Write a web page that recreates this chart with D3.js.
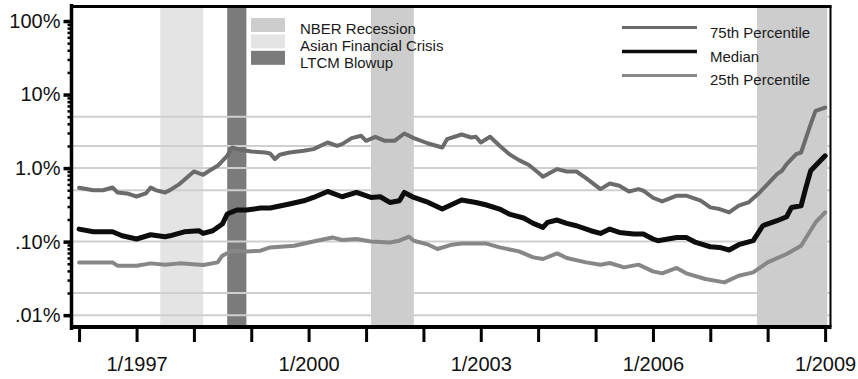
<!DOCTYPE html>
<html>
<head>
<meta charset="utf-8">
<script src="https://cdn.jsdelivr.net/npm/d3@7"></script>
<style>
  html, body { margin: 0; padding: 0; background: #fff; }
  svg { display: block; font-family: "Liberation Sans", Arial, Helvetica, sans-serif; }
</style>
</head>
<body>
<svg id="chart" width="858" height="379"></svg>
<script>
// Monthly percentile readings, in percent
const p75 = [
  ["1996-01",0.54],["1996-04",0.50],["1996-06",0.50],["1996-08",0.545],["1996-09",0.466],["1996-11",0.452],
  ["1997-01",0.411],["1997-03",0.452],["1997-04",0.545],["1997-05",0.502],["1997-07",0.466],["1997-08",0.502],
  ["1997-10",0.606],["1997-12",0.786],["1998-01",0.899],["1998-03",0.811],["1998-04",0.899],["1998-06",1.075],
  ["1998-08",1.469],["1998-09",1.905],["1998-11",1.757],["1999-01",1.681],["1999-04",1.629],["1999-05",1.579],
  ["1999-06",1.325],["1999-07",1.516],["1999-09",1.629],["1999-12",1.718],["2000-02",1.812],["2000-05",2.228],
  ["2000-07",2.009],["2000-08",2.118],["2000-10",2.557],["2000-12",2.748],["2001-01",2.35],["2001-03",2.663],
  ["2001-05",2.35],["2001-07",2.35],["2001-09",2.952],["2001-11",2.557],["2002-02",2.159],["2002-05",1.905],
  ["2002-06",2.478],["2002-09",2.86],["2002-11",2.605],["2002-12",2.663],["2003-01",2.228],["2003-03",2.663],
  ["2003-05",2.009],["2003-07",1.549],["2003-09",1.284],["2003-11",1.109],["2004-01",0.871],["2004-02",0.762],
  ["2004-05",0.969],["2004-07",0.899],["2004-09",0.899],["2004-11",0.731],["2005-02",0.518],["2005-04",0.618],
  ["2005-06",0.575],["2005-08",0.481],["2005-10",0.518],["2005-11",0.492],["2006-01",0.395],["2006-03",0.352],
  ["2006-06",0.421],["2006-08",0.421],["2006-11",0.36],["2007-01",0.292],["2007-03",0.277],["2007-05",0.249],
  ["2007-07",0.308],["2007-09",0.341],["2007-11",0.443],["2008-01",0.606],["2008-03",0.829],["2008-04",0.919],
  ["2008-05",1.133],["2008-07",1.549],["2008-08",1.629],["2008-10",3.963],["2008-11",6.004],["2009-01",6.653]
];
const median = [
  ["1996-01",0.148],["1996-04",0.136],["1996-08",0.136],["1996-10",0.120],["1997-01",0.1085],["1997-04",0.124],
  ["1997-07",0.1166],["1997-08",0.120],["1997-11",0.136],["1998-02",0.1406],["1998-03",0.1293],["1998-05",0.1406],
  ["1998-07",0.1734],["1998-08",0.2371],["1998-10",0.2688],["1998-12",0.2688],["1999-03",0.2861],["1999-05",0.2861],
  ["1999-09",0.3243],["1999-12",0.3594],["2000-02",0.3986],["2000-05",0.4809],["2000-08",0.4074],["2000-11",0.4662],
  ["2001-02",0.3986],["2001-04",0.4074],["2001-06",0.3409],["2001-08",0.3594],["2001-09",0.4662],["2001-11",0.3986],
  ["2002-02",0.3409],["2002-05",0.2773],["2002-07",0.3202],["2002-09",0.3674],["2002-12",0.3409],["2003-02",0.3172],
  ["2003-05",0.2773],["2003-07",0.2371],["2003-10",0.2093],["2003-12",0.1767],["2004-02",0.1559],["2004-03",0.1823],
  ["2004-05",0.1965],["2004-07",0.1767],["2004-09",0.1644],["2004-12",0.1406],["2005-02",0.1293],["2005-04",0.1483],
  ["2005-06",0.1334],["2005-09",0.1269],["2005-11",0.1269],["2006-01",0.1085],["2006-02",0.1029],["2006-06",0.114],
  ["2006-08",0.114],["2006-10",0.0975],["2007-01",0.0852],["2007-03",0.0834],["2007-05",0.0769],["2007-07",0.0908],
  ["2007-10",0.1029],["2007-12",0.1644],["2008-03",0.1923],["2008-05",0.218],["2008-06",0.2914],["2008-08",0.3075],
  ["2008-09",0.545],["2008-10",0.919],["2008-12",1.257],["2009-01",1.469]
];
const p25 = [
  ["1996-01",0.0522],["1996-08",0.0522],["1996-09",0.0471],["1997-01",0.0471],["1997-04",0.0506],["1997-07",0.0486],
  ["1997-10",0.0506],["1998-03",0.0481],["1998-06",0.0522],["1998-07",0.0643],["1998-09",0.0752],["1998-12",0.0736],
  ["1999-03",0.0752],["1999-05",0.0834],["1999-10",0.088],["2000-02",0.1006],["2000-06",0.114],["2000-08",0.1051],
  ["2000-11",0.1085],["2001-02",0.1006],["2001-06",0.0975],["2001-08",0.1029],["2001-10",0.1166],["2001-11",0.1029],
  ["2002-02",0.0908],["2002-04",0.0793],["2002-07",0.0908],["2002-09",0.0945],["2002-11",0.0945],["2003-02",0.0945],
  ["2003-05",0.0834],["2003-09",0.0736],["2003-12",0.061],["2004-02",0.058],["2004-05",0.0691],["2004-07",0.0599],
  ["2004-11",0.0522],["2005-02",0.0486],["2005-04",0.0512],["2005-07",0.0446],["2005-10",0.0486],["2006-01",0.0394],
  ["2006-03",0.037],["2006-06",0.0438],["2006-08",0.037],["2006-12",0.031],["2007-04",0.0279],["2007-07",0.0344],
  ["2007-10",0.0382],["2008-01",0.0522],["2008-05",0.0679],["2008-08",0.088],["2008-11",0.1823],["2009-01",0.2493]
];

const seriesNames  = ["75th Percentile", "Median", "25th Percentile"];
const seriesColors = ["#6b6b6b", "#0d0d0d", "#878787"];
const seriesWidths = [4, 5, 4];

// Shaded event periods
const bandNames  = ["NBER Recession", "Asian Financial Crisis", "LTCM Blowup"];
const bandColors = ["#cdcdcd", "#e4e4e4", "#7b7b7b"];
const nberPeriods  = [["2001-02-01", "2001-11-01"], ["2007-10-25", "2009-01-15"]];
const asianPeriods = [["1997-06-01", "1998-03-01"]];
const ltcmPeriods  = [["1998-08-01", "1998-12-01"]];

// Axes
const xDomain = ["1995-11-17", "2009-02-01"];
const yDomain = [0.0069, 160];
const yearTicks = d3.range(1996, 2010);
const labeledYears = [1997, 2000, 2003, 2006, 2009];
const yTickValues = [100, 10, 1, 0.1, 0.01];
const yTickLabels = ["100%", "10%", "1.0%", ".10%", ".01%"];
const gridValues = [5, 2, 1, 0.5, 0.1, 0.02, 0.01];

const parseMonth = d3.timeParse("%Y-%m");
const parseDay = d3.timeParse("%Y-%m-%d");

const svg = d3.select("#chart");
const pLeft = 72, pRight = 830, pTop = 6, pBottom = 327;

const x = d3.scaleTime().domain(xDomain.map(parseDay)).range([pLeft, pRight]);
const y = d3.scaleLog().domain(yDomain).range([pBottom, pTop]);

svg.append("defs").append("clipPath").attr("id", "plot")
  .append("rect").attr("x", pLeft).attr("y", pTop).attr("width", pRight - pLeft).attr("height", pBottom - pTop);

const plot = svg.append("g").attr("clip-path", "url(#plot)");

// Event bands
function drawBands(periods, color) {
  plot.append("g").selectAll("rect").data(periods).join("rect")
    .attr("x", d => x(parseDay(d[0])))
    .attr("width", d => x(parseDay(d[1])) - x(parseDay(d[0])))
    .attr("y", y(yDomain[1]))
    .attr("height", y(yDomain[0]) - y(yDomain[1]))
    .attr("fill", color);
}
drawBands(nberPeriods, bandColors[0]);
drawBands(asianPeriods, bandColors[1]);
drawBands(ltcmPeriods, bandColors[2]);

// Horizontal grid
plot.append("g").selectAll("line").data(gridValues).join("line")
  .attr("x1", pLeft).attr("x2", pRight)
  .attr("y1", d => y(d)).attr("y2", d => y(d))
  .attr("stroke", "#cfcfcf").attr("stroke-width", 2);

// Percentile lines
const line = d3.line()
  .x(d => x(parseMonth(d[0])))
  .y(d => y(d[1]))
  .curve(d3.curveLinear);

const series = [p75, median, p25];
[2, 0, 1].forEach(i => {
  plot.append("path")
    .datum(series[i])
    .attr("d", line)
    .attr("fill", "none")
    .attr("stroke", seriesColors[i])
    .attr("stroke-width", seriesWidths[i])
    .attr("stroke-linejoin", "round")
    .attr("stroke-linecap", "round");
});

// Frame: top and right edges
svg.append("line").attr("x1", pLeft - 2).attr("x2", pRight + 1.5)
  .attr("y1", pTop + 0.5).attr("y2", pTop + 0.5).attr("stroke", "#000").attr("stroke-width", 3);
svg.append("line").attr("x1", pRight + 0.5).attr("x2", pRight + 0.5)
  .attr("y1", pTop).attr("y2", pBottom).attr("stroke", "#000").attr("stroke-width", 2);

// Y axis: major ticks with labels
const yAxis = d3.axisLeft(y)
  .tickValues(yTickValues)
  .tickFormat((d, i) => yTickLabels[i])
  .tickSize(8).tickSizeOuter(0).tickPadding(3);
const gy = svg.append("g").attr("transform", `translate(${pLeft - 0.5},0)`).call(yAxis);
gy.select(".domain").attr("stroke-width", 3.5).attr("d", `M0,${pTop - 2}V${pBottom + 3}`);
gy.selectAll(".tick line").attr("stroke-width", 3.5);
gy.selectAll(".tick text").attr("font-size", 20).attr("fill", "#111")
  .attr("font-family", "'Liberation Sans', Arial, sans-serif");

// Y axis: minor ticks
const minorValues = [];
[0.01, 0.1, 1, 10].forEach(dec => d3.range(2, 10).forEach(k => minorValues.push(dec * k)));
const yMinor = d3.axisLeft(y).tickValues(minorValues).tickFormat("").tickSize(4).tickSizeOuter(0);
const gym = svg.append("g").attr("transform", `translate(${pLeft - 0.5},0)`).call(yMinor);
gym.select(".domain").remove();
gym.selectAll(".tick line").attr("stroke-width", 2.5);

// X axis
const xAxis = d3.axisBottom(x)
  .tickValues(yearTicks.map(yr => new Date(yr, 0, 1)))
  .tickFormat(d => labeledYears.includes(d.getFullYear()) ? "1/" + d.getFullYear() : "")
  .tickSize(15).tickSizeOuter(0).tickPadding(15);
const gx = svg.append("g").attr("transform", `translate(0,${pBottom})`).call(xAxis);
gx.select(".domain").attr("stroke-width", 4).attr("d", `M${pLeft - 2},0H${pRight + 1.5}`);
gx.selectAll(".tick line").attr("stroke-width", 3);
gx.selectAll(".tick text").attr("font-size", 20).attr("fill", "#111")
  .attr("font-family", "'Liberation Sans', Arial, sans-serif");

// Legend: shaded periods
const bandLegend = svg.append("g").attr("font-size", 15).attr("fill", "#1a1a1a");
bandNames.forEach((name, i) => {
  bandLegend.append("rect")
    .attr("x", 251).attr("y", 18 + i * 16.4).attr("width", 34).attr("height", 14)
    .attr("fill", bandColors[i]);
  bandLegend.append("text")
    .attr("x", 300).attr("y", 34 + i * 16.8).text(name);
});

// Legend: percentile lines
const lineLegend = svg.append("g").attr("font-size", 15).attr("fill", "#1a1a1a");
seriesNames.forEach((name, i) => {
  const ly = 27.5 + i * 24;
  lineLegend.append("line")
    .attr("x1", 622).attr("x2", 697).attr("y1", ly).attr("y2", ly)
    .attr("stroke", seriesColors[i]).attr("stroke-width", i === 1 ? 3.5 : 3);
  lineLegend.append("text")
    .attr("x", 710).attr("y", 38 + i * 23.5).text(name);
});
</script>
</body>
</html>
